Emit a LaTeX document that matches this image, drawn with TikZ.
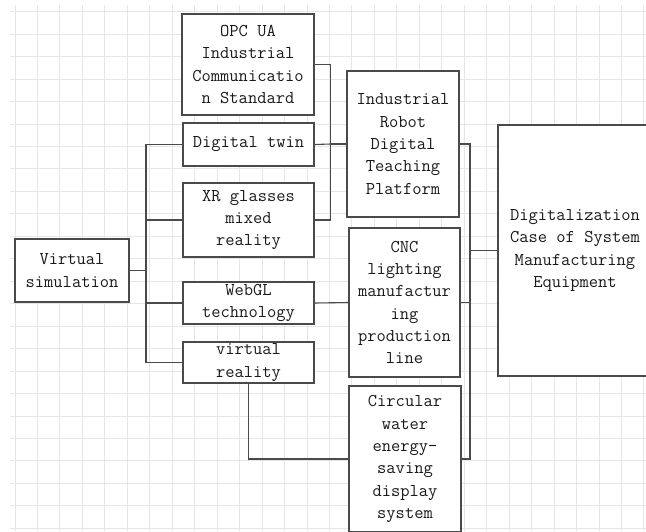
\documentclass[tikz,border=0pt]{standalone}
\usepackage{fontspec}
\definecolor{gridc}{HTML}{E6E6E6}
\definecolor{linec}{HTML}{4A4A4A}
\definecolor{textc}{HTML}{1A1A1A}
\begin{document}
\begin{tikzpicture}[x=1pt,y=-1pt,
  box/.style={draw=linec,line width=1.1pt,fill=white,inner sep=0pt,align=center,
    text=textc,font=\ttfamily\fontsize{18}{22.3}\selectfont},
  conn/.style={draw=linec,line width=1.1pt}]
\useasboundingbox (0,0) rectangle (646,531);
\clip (0,0) rectangle (646,531);
% grid
\foreach \k in {0,...,23} {\draw[gridc,line width=0.9pt] (10,11.7+22.46*\k) -- (646,11.7+22.46*\k);}
\foreach \k in {0,...,28} {\draw[gridc,line width=0.9pt] (15+22.46*\k,5) -- (15+22.46*\k,531);}
% nodes
\node[box,minimum width=114pt,minimum height=63pt] (vs) at (72,270.5) {Virtual\\simulation};
\node[box,minimum width=132pt,minimum height=101pt] (opc) at (248,64.5) {OPC UA\\Industrial\\Communicatio\\n Standard};
\node[box,minimum width=131pt,minimum height=43pt] (dt) at (248.5,144.5) {Digital twin};
\node[box,minimum width=131pt,minimum height=74pt] (xr) at (248.5,220) {XR glasses\\mixed\\reality};
\node[box,minimum width=131pt,minimum height=42pt] (webgl) at (248.5,303) {WebGL\\technology};
\node[box,minimum width=131pt,minimum height=41pt] (vr) at (248.5,362.5) {virtual\\reality};
\node[box,minimum width=112pt,minimum height=146pt] (irp) at (403,144) {Industrial\\Robot\\Digital\\Teaching\\Platform};
\node[box,minimum width=111pt,minimum height=149pt] (cnc) at (404.5,302.5) {CNC\\lighting\\manufactur\\ing\\production\\line};
\node[box,minimum width=112pt,minimum height=146pt] (cw) at (405,459) {Circular\\water\\energy-\\saving\\display\\system};
\node[box,minimum width=154pt,minimum height=251pt] (dig) at (575,250.5) {Digitalization\\Case of System\\Manufacturing\\Equipment};
% connector junctions
\coordinate (t1) at (146,270.5);
\coordinate (t2) at (330.7,144);
\coordinate (t3) at (470,250.5);
% connectors
\draw[conn] (vs.east) -- (t1);
\draw[conn] (dt.west) -| (t1);
\draw[conn] (xr.west) -| (t1);
\draw[conn] (webgl.west) -| (t1);
\draw[conn] (vr.west) -| (t1);
\draw[conn] (opc.east) -| (t2);
\draw[conn] (dt.east) -- (t2);
\draw[conn] (xr.east) -| (t2);
\draw[conn] (t2) -- (irp.west);
\draw[conn] (irp.east) -| (t3);
\draw[conn] (cnc.east) -| (t3);
\draw[conn] (cw.east) -| (t3);
\draw[conn] (t3) -- (dig.west);
\draw[conn] (webgl.east) -- (cnc.west);
\draw[conn] (vr.south) |- (cw.west);
\end{tikzpicture}
\end{document}
